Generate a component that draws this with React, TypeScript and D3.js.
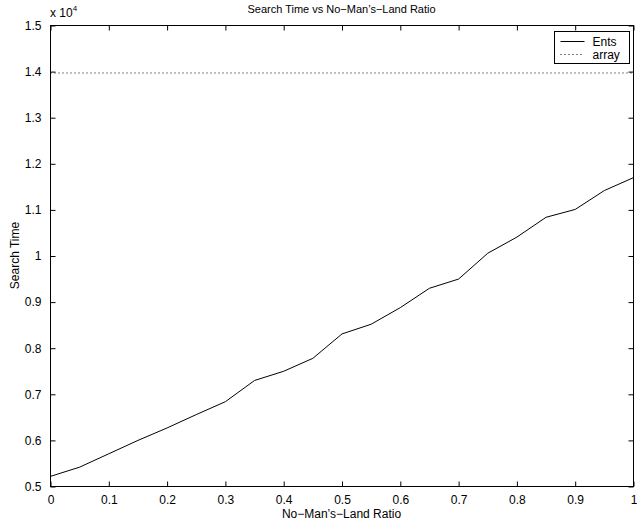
import { useEffect, useRef } from 'react'
import * as d3 from 'd3'

const W = 637
const H = 523
const MARGIN = { top: 25, right: 4, bottom: 37, left: 50 }

const ratio = [0, 0.05, 0.1, 0.15, 0.2, 0.25, 0.3, 0.35, 0.4, 0.45, 0.5, 0.55, 0.6, 0.65, 0.7, 0.75, 0.8, 0.85, 0.9, 0.95, 1]
const ents = [5220, 5420, 5710, 6000, 6270, 6560, 6840, 7300, 7500, 7780, 8310, 8520, 8880, 9300, 9500, 10060, 10410, 10840, 11010, 11420, 11700]
const arrayTime = [13970, 13970]
const arrayRatio = [0, 1]
const xTicks = [0, 0.1, 0.2, 0.3, 0.4, 0.5, 0.6, 0.7, 0.8, 0.9, 1]
const yTicks = [5000, 6000, 7000, 8000, 9000, 10000, 11000, 12000, 13000, 14000, 15000]

export default function App() {
  const svgRef = useRef<SVGSVGElement>(null)

  useEffect(() => {
    if (!svgRef.current) return
    const iW = W - MARGIN.left - MARGIN.right
    const iH = H - MARGIN.top - MARGIN.bottom
    const font = 'Arial, "Liberation Sans", sans-serif'

    const x = d3.scaleLinear().domain([0, 1]).range([0, iW])
    const y = d3.scaleLinear().domain([5000, 15000]).range([iH, 0])

    const svg = d3.select(svgRef.current)
    svg.selectAll('*').remove()
    svg.append('rect').attr('width', W).attr('height', H).attr('fill', '#fff')

    const g = svg.append('g').attr('transform', `translate(${MARGIN.left + 0.5},${MARGIN.top + 0.5})`)

    const styleAxis = (ax: any) => {
      ax.select('.domain').remove()
      ax.selectAll('.tick line').attr('stroke', '#000')
      ax.selectAll('text').attr('font-size', 12).attr('fill', '#000').attr('font-family', font)
    }

    // ticks inside on all four sides
    g.append('g').attr('transform', `translate(0,${iH})`)
      .call(d3.axisBottom(x).tickValues(xTicks).tickFormat(d => d3.format('')(+d)).tickSizeInner(-5).tickPadding(9))
      .call(styleAxis)
    g.append('g')
      .call(d3.axisTop(x).tickValues(xTicks).tickFormat(() => '').tickSizeInner(-5))
      .call(styleAxis)
    g.append('g')
      .call(d3.axisLeft(y).tickValues(yTicks).tickFormat(d => d3.format('')(+d / 10000)).tickSizeInner(-5).tickPadding(9))
      .call(styleAxis)
    g.append('g').attr('transform', `translate(${iW},0)`)
      .call(d3.axisRight(y).tickValues(yTicks).tickFormat(() => '').tickSizeInner(-5))
      .call(styleAxis)

    g.append('rect').attr('width', iW).attr('height', iH)
      .attr('fill', 'none').attr('stroke', '#000').attr('stroke-width', 1)

    const line = d3.line<[number, number]>().x(d => x(d[0])).y(d => y(d[1]))

    g.append('path')
      .datum(arrayRatio.map((r, i) => [r, arrayTime[i]] as [number, number]))
      .attr('fill', 'none').attr('stroke', '#000').attr('stroke-width', 1)
      .attr('stroke-dasharray', '1 3').attr('d', line)

    g.append('path')
      .datum(ratio.map((r, i) => [r, ents[i]] as [number, number]))
      .attr('fill', 'none').attr('stroke', '#000').attr('stroke-width', 1)
      .attr('d', line)

    // exponent label
    const ex = svg.append('text').attr('x', MARGIN.left).attr('y', 17)
      .attr('font-size', 12).attr('font-family', font).attr('fill', '#000')
    ex.append('tspan').text('x 10')
    ex.append('tspan').text('4').attr('font-size', 8).attr('dy', -6)

    // title and axis labels
    svg.append('text').attr('x', MARGIN.left + iW / 2).attr('y', 13)
      .attr('text-anchor', 'middle').attr('font-size', 11).attr('font-family', font)
      .text('Search Time vs No\u2212Man\u2019s\u2212Land Ratio')
    svg.append('text').attr('x', MARGIN.left + iW / 2).attr('y', 518)
      .attr('text-anchor', 'middle').attr('font-size', 12).attr('font-family', font)
      .text('No\u2212Man\u2019s\u2212Land Ratio')
    svg.append('text').attr('transform', `translate(19,${MARGIN.top + iH / 2}) rotate(-90)`)
      .attr('text-anchor', 'middle').attr('font-size', 12).attr('font-family', font)
      .text('Search Time')

    // legend
    const lg = svg.append('g').attr('transform', 'translate(554.5,31.5)')
    lg.append('rect').attr('width', 75).attr('height', 32).attr('fill', '#fff').attr('stroke', '#000')
    const items = [{ name: 'Ents', dash: null }, { name: 'array', dash: '1 3' }]
    items.forEach((it, i) => {
      const yy = 10 + i * 13
      lg.append('line').attr('x1', 6).attr('x2', 30).attr('y1', yy).attr('y2', yy)
        .attr('stroke', '#000').attr('stroke-dasharray', it.dash)
      lg.append('text').attr('x', 38).attr('y', yy + 4)
        .attr('font-size', 12).attr('font-family', font).text(it.name)
    })
  }, [])

  return <svg ref={svgRef} width={W} height={H} style={{ display: 'block', position: 'absolute', left: 0, top: 0 }} />
}
